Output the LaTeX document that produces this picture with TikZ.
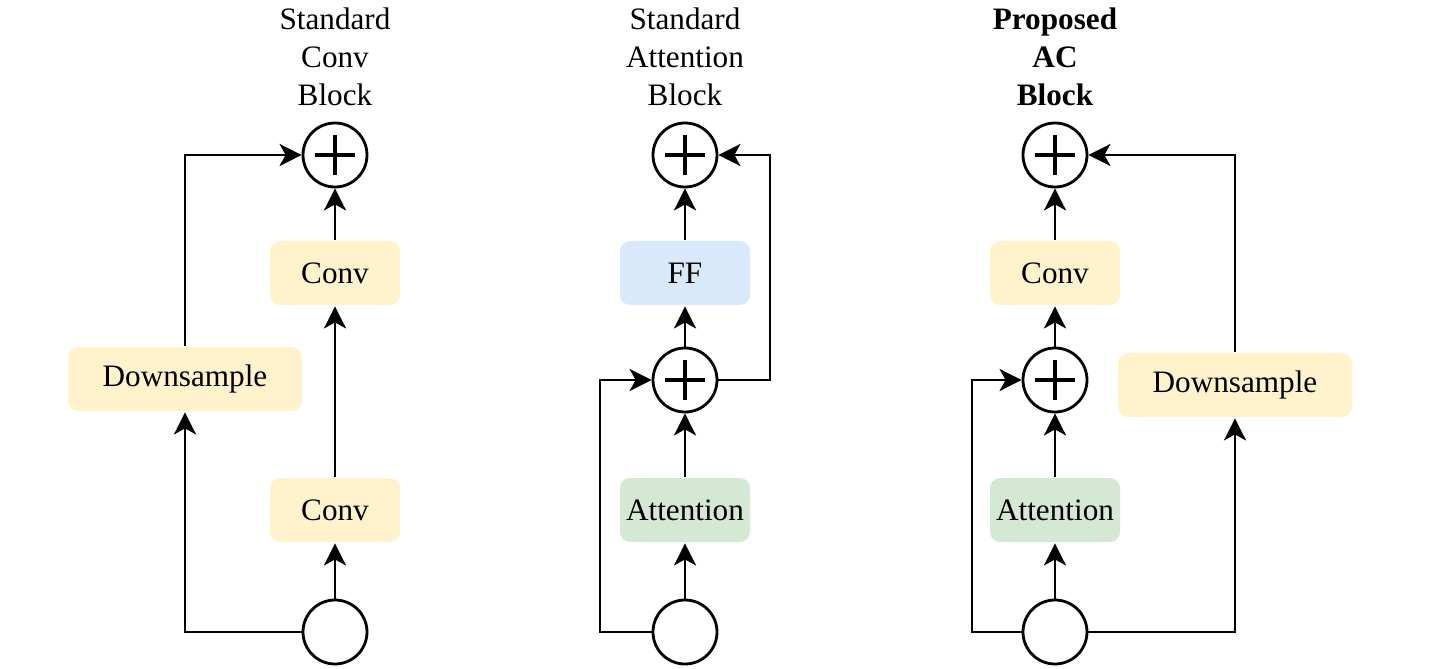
\documentclass[tikz,border=0pt]{standalone}
\usepackage{fontspec}
\setmainfont{Liberation Serif}
\usepackage{tikz}
\usetikzlibrary{arrows.meta}
\usetikzlibrary{positioning}

\definecolor{convfill}{HTML}{FFF2CC}
\definecolor{fffill}{HTML}{DAE8FC}
\definecolor{attfill}{HTML}{D5E8D4}

\begin{document}
\begin{tikzpicture}[x=0.5pt, y=-0.5pt, line width=1.4pt,
    font=\fontsize{15.6}{19}\selectfont]
    \tikzstyle{link}=[-{Stealth[length=11pt,width=11pt,inset=3pt]}]
    \tikzstyle{blockbox}=[rounded corners=5pt, minimum width=65pt,
                      minimum height=32pt, inner sep=0pt]
    \tikzstyle{convbox}=[blockbox, fill=convfill]
    \tikzstyle{dsbox}=[blockbox, fill=convfill, minimum width=117pt]
    \tikzstyle{ffbox}=[blockbox, fill=fffill]
    \tikzstyle{attbox}=[blockbox, fill=attfill]
    \tikzstyle{inputs}=[draw, circle, minimum size=32pt, inner sep=0pt]
    \tikzstyle{adder}=[inputs, path picture={
        \draw[line width=2pt]
          ([xshift=-10pt]path picture bounding box.center) -- ([xshift=10pt]path picture bounding box.center)
          ([yshift=-10pt]path picture bounding box.center) -- ([yshift=10pt]path picture bounding box.center);}]
    \tikzstyle{heading}=[align=center]
    \useasboundingbox (0,0) rectangle (1432,669);
    % Input circles
    \foreach \x/\name in {335/in1, 685/in2, 1055/in3}
        \node[inputs] (\name) at (\x,632) {};
    % Titles
    \node[heading] (t1) at (335,57) {Standard\\Conv\\Block};
    \node[heading] (t2) at (685,57) {Standard\\Attention\\Block};
    \node[heading, font=\fontsize{15.6}{19}\selectfont\bfseries] (t3) at (1055,57) {Proposed\\AC\\Block};
    % Standard conv block
    \node[adder] (plus1) at (335,155) {};
    \node[convbox] (conv1a) at (335,273) {Conv};
    \node[convbox] (conv1b) at (335,510) {Conv};
    \node[dsbox] (ds1) at (185,379) {Downsample};
    \draw[link] (in1) -- (conv1b);
    \draw[link] (conv1b) -- (conv1a);
    \draw[link] (conv1a) -- (plus1);
    \draw[link] (in1.west) -| (ds1.south);
    \draw[link] (ds1.north) |- (plus1.west);
    % Standard attention block
    \node[adder] (plus2a) at (685,155) {};
    \node[ffbox] (ff2) at (685,273) {FF};
    \node[adder] (plus2b) at (685,380) {};
    \node[attbox] (att2) at (685,510) {Attention};
    \coordinate (c2l) at (600,632);
    \coordinate (c2r) at (770,380);
    \draw[link] (in2) -- (att2);
    \draw[link] (att2) -- (plus2b);
    \draw[link] (plus2b) -- (ff2);
    \draw[link] (ff2) -- (plus2a);
    \draw[link] (in2.west) -- (c2l) |- (plus2b.west);
    \draw[link] (plus2b.east) -- (c2r) |- (plus2a.east);
    % Proposed AC block
    \node[adder] (plus3a) at (1055,155) {};
    \node[convbox] (conv3) at (1055,273) {Conv};
    \node[adder] (plus3b) at (1055,380) {};
    \node[attbox] (att3) at (1055,510) {Attention};
    \node[dsbox] (ds3) at (1235,385) {Downsample};
    \coordinate (c3l) at (972,632);
    \draw[link] (in3) -- (att3);
    \draw[link] (att3) -- (plus3b);
    \draw[link] (plus3b) -- (conv3);
    \draw[link] (conv3) -- (plus3a);
    \draw[link] (in3.west) -- (c3l) |- (plus3b.west);
    \draw[link] (in3.east) -| (ds3.south);
    \draw[link] (ds3.north) |- (plus3a.east);
\end{tikzpicture}
\end{document}
